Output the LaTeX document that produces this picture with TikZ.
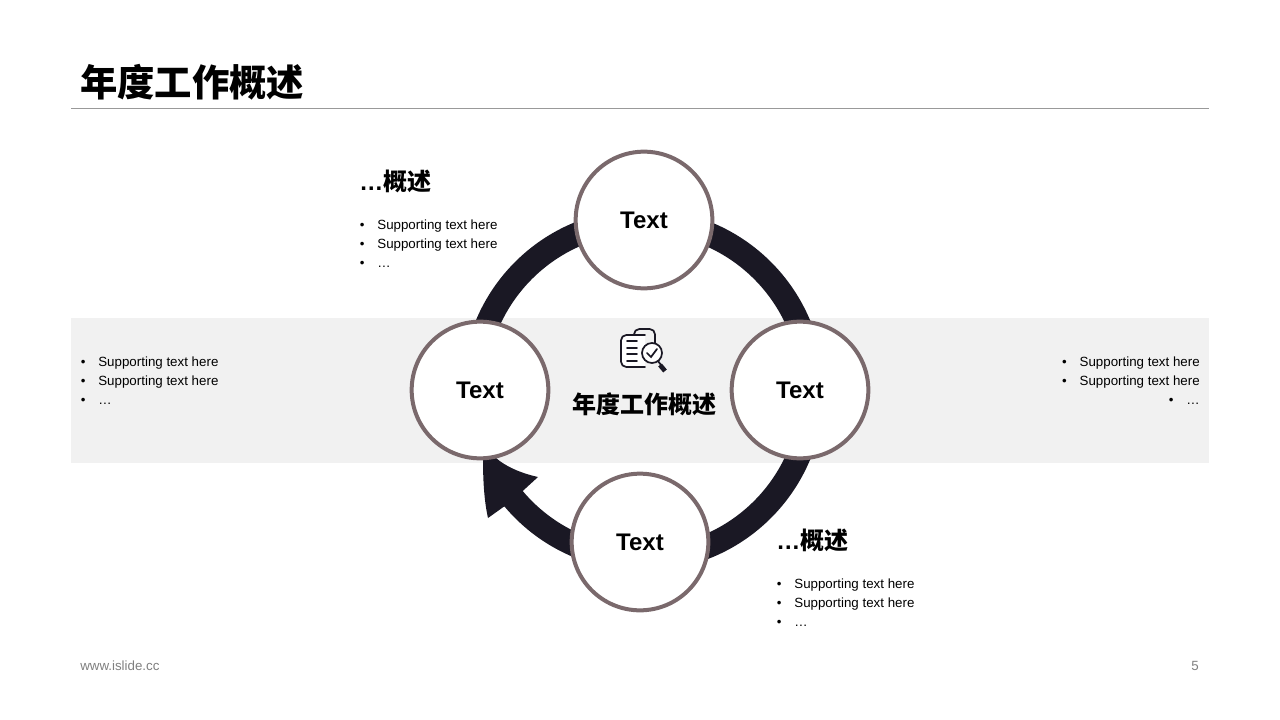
\documentclass[tikz,border=0pt]{standalone}
\usepackage{fontspec}
\setmainfont{Liberation Sans}
\newfontfamily\cjk{Noto Sans CJK SC}
\usepackage{tikz}
\usetikzlibrary{positioning,calc}

\definecolor{ringdark}{HTML}{1A1824}
\definecolor{ringedge}{HTML}{7A696C}
\definecolor{bandgray}{HTML}{F1F1F1}
\definecolor{footgray}{HTML}{7F7F7F}

\newcommand{\bulletitem}[1]{\makebox[13.2pt][l]{\textbullet}#1}
\newcommand{\supportline}{Supporting text here}

\tikzset{
	stagecircle/.style={circle,draw=ringedge,line width=3pt,fill=white,minimum size=102.5pt,inner sep=0pt,font=\fontsize{18}{22}\selectfont\bfseries},
	headline/.style={anchor=west,inner sep=0pt,font=\fontsize{18}{22}\selectfont\bfseries},
	bulletlist/.style={anchor=west,inner sep=0pt,align=left,font=\fontsize{10}{14.25}\selectfont},
	iconline/.style={draw=ringdark,line width=1.3pt,line cap=round},
}

\begin{document}
\begin{tikzpicture}[x=0.75pt,y=-0.75pt]
	\useasboundingbox (0,0) rectangle (1280,720);
	
	\node[anchor=west,inner sep=0pt,font=\fontsize{28}{32}\selectfont\bfseries\cjk] (title) at (80,82) {年度工作概述};
	\coordinate (ruleL) at (71,108);
	\coordinate (ruleR) at (1209,108);
	\draw[gray!80,line width=0.6pt] (ruleL)--(ruleR);
	
	\fill[bandgray] (71,318) rectangle (1209,463);
	
	\coordinate (ringc) at (643,390);
	\draw[ringdark,line width=18pt] (ringc) ++(180:169) arc[start angle=180,end angle=450,radius=169];
	\fill[ringdark] (ringc) ++(112:181) arc[start angle=112,end angle=140,radius=181] -- (488,518)
		.. controls (484,500) and (483,480) .. (483,458) -- (496,458)
		.. controls (505,466) and (520,473) .. (538,477) -- (522.7,491)
		arc[start angle=140,end angle=112,radius=157] -- cycle;
	
	\node[stagecircle] (stagetop) at (644,220) {Text};
	\node[stagecircle] (stageleft) at (480,390) {Text};
	\node[stagecircle] (stageright) at (800,390) {Text};
	\node[stagecircle] (stagebottom) at (640,542) {Text};
	
	\node[font=\fontsize{18}{22}\selectfont\bfseries\cjk,inner sep=0pt] (centre) at (644,404) {年度工作概述};
	
	% icon
	\draw[iconline,rounded corners=4pt] (634,335)--(634,329)--(655,329)--(655,343);
	\draw[iconline,fill=white,rounded corners=4pt] (645,335)--(621,335)--(621,367)--(645,367);
	\draw[iconline] (627,341)--(637,341);
	\draw[iconline] (627,348)--(637,348);
	\draw[iconline] (627,354)--(637,354);
	\draw[iconline] (627,361)--(637,361);
	\draw[iconline,fill=white] (652,353) circle (10);
	\draw[iconline] (647,353)--(651,357)--(657,349);
	\draw[iconline] (658,361)--(661,365);
	\draw[ringdark,line width=3.5pt] (660,365)--(665,371);
	
	\node[headline] (headtop) at (359,181) {…{\cjk 概述}};
	\node[bulletlist] (listtop) at (359.5,244) {\bulletitem{\supportline}\\\bulletitem{\supportline}\\\bulletitem{…}};
	\node[bulletlist] (listleft) at (80.5,381) {\bulletitem{\supportline}\\\bulletitem{\supportline}\\\bulletitem{…}};
	\node[bulletlist,anchor=east,align=right] (listright) at (1200,381) {\bulletitem{\supportline}\\\bulletitem{\supportline}\\\bulletitem{…}};
	\node[headline] (headbottom) at (776,540) {…{\cjk 概述}};
	\node[bulletlist] (listbottom) at (776.5,603) {\bulletitem{\supportline}\\\bulletitem{\supportline}\\\bulletitem{…}};
	
	\node[anchor=west,inner sep=0pt,text=footgray,font=\fontsize{10}{12}\selectfont] (site) at (80,666) {www.islide.cc};
	\node[anchor=east,inner sep=0pt,text=footgray,font=\fontsize{10}{12}\selectfont] (page) at (1199,666) {5};
\end{tikzpicture}
\end{document}
